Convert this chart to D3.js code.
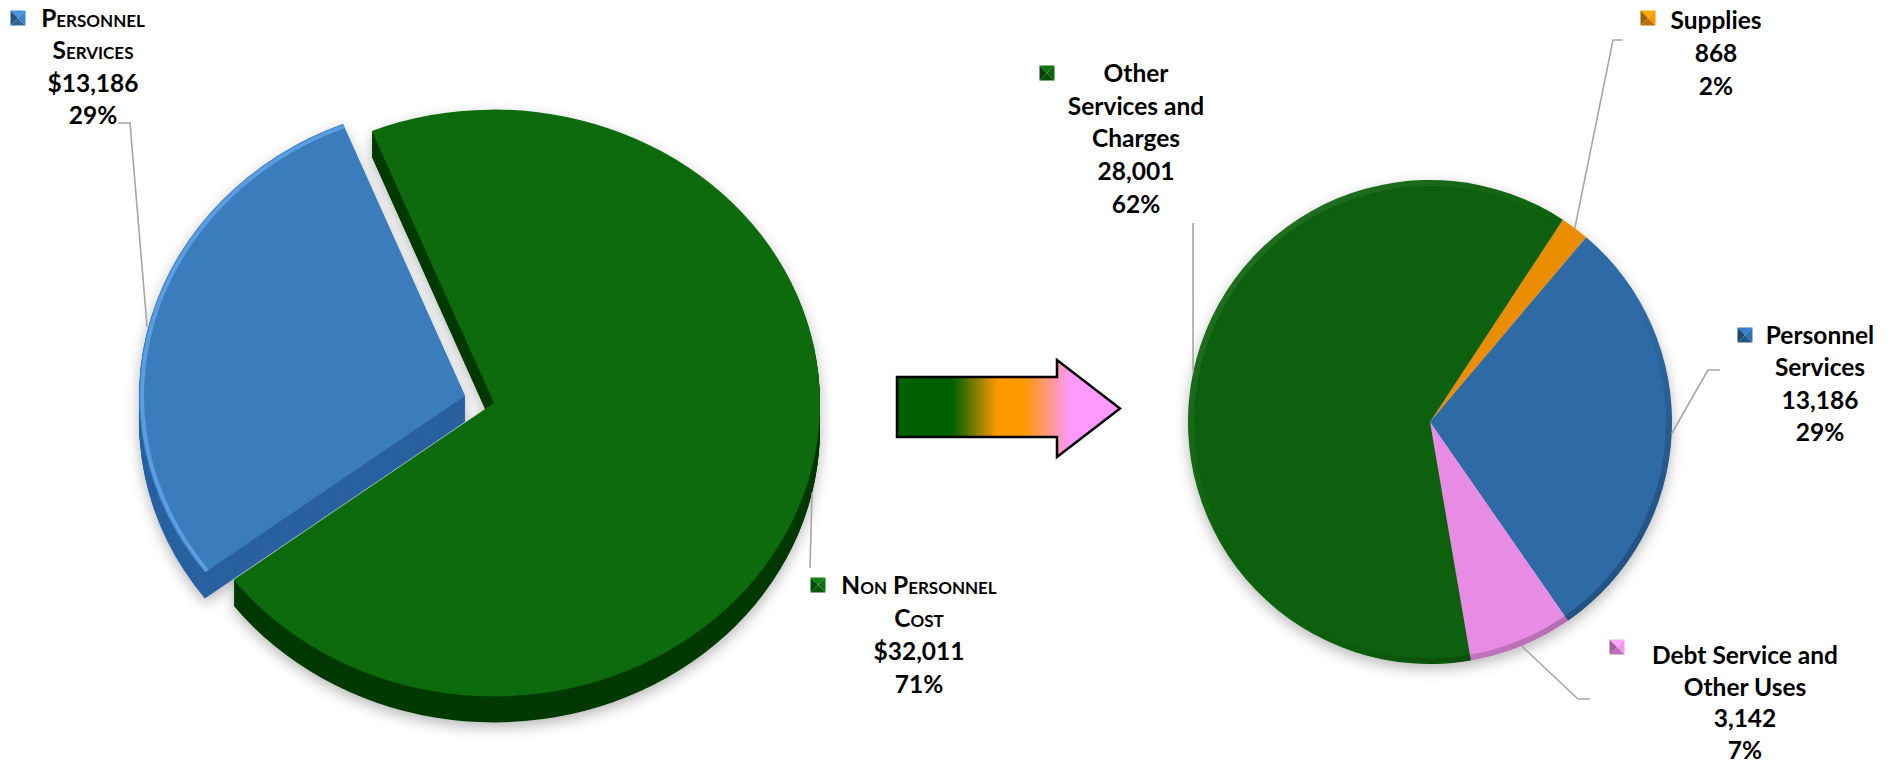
<!DOCTYPE html>
<html><head><meta charset="utf-8">
<script src="https://cdn.jsdelivr.net/npm/d3@7"></script>
<style>html,body{margin:0;padding:0;background:#fff;} svg{display:block;font-family:Lato,"Open Sans",sans-serif;}</style>
</head><body>
<svg id="c" width="1894" height="763"></svg>
<script>
// ---------- DATA ----------
const leftCategories = ["Non Personnel Cost", "Personnel Services"];
const leftValues = [32011, 13186];
const rightCategories = ["Supplies", "Personnel Services", "Debt Service and Other Uses", "Other Services and Charges"];
const rightValues = [868, 13186, 3142, 28001];

// ---------- STYLE / LAYOUT ----------
const leftTop = ["#0c6b0c", "#3a7dbc"];
const leftSide = ["#033a03", "#2a62a0"];
const rightColors = ["#ea8d00", "#2d6aa6", "#e88be4", "#086008"];
const fontSize = 24.5;

const svg = d3.select("#c");
const defs = svg.append("defs");
const f = defs.append("filter").attr("id", "shadow")
  .attr("x", "-20%").attr("y", "-20%").attr("width", "140%").attr("height", "140%");
f.append("feDropShadow").attr("dx", 0).attr("dy", 5).attr("stdDeviation", 7)
  .attr("flood-color", "#000").attr("flood-opacity", 0.28);

const bev = defs.append("linearGradient").attr("id", "bevel")
  .attr("x1", 0).attr("y1", 0).attr("x2", 1).attr("y2", 1);
[[0, "#ffffff", 0.12], [0.45, "#ffffff", 0], [0.6, "#000000", 0], [1, "#000000", 0.35]]
  .forEach(s => bev.append("stop").attr("offset", s[0]).attr("stop-color", s[1]).attr("stop-opacity", s[2]));

const ag = defs.append("linearGradient").attr("id", "arrowGrad")
  .attr("x1", 0).attr("x2", 1).attr("y1", 0).attr("y2", 0);
[[0, "#006000"], [0.25, "#006000"], [0.45, "#ff9900"], [0.57, "#ff9900"], [0.78, "#ff99ff"], [1, "#ff99ff"]]
  .forEach(s => ag.append("stop").attr("offset", s[0]).attr("stop-color", s[1]));

const deg = Math.PI / 180;
const fmtMoney = d3.format("$,");
const fmtNum = d3.format(",");
const fmtPct = d3.format(".0%");

// ---------- LEFT PIE (3D, exploded) ----------
const L = {cx: 494, cy: 403, r: 326, sy: 0.9, depth: 26, explode: [0, 30]};
const leftData = leftCategories.map((c, i) => ({name: c, value: leftValues[i], i}));
const leftTotal = d3.sum(leftValues);
const leftPie = d3.pie().sort(null).value(d => d.value)
  .startAngle(-22 * deg).endAngle(338 * deg);
const leftArcs = leftPie(leftData);
const arcL = d3.arc().innerRadius(0).outerRadius(L.r);
function offL(d) {
  const m = (d.startAngle + d.endAngle) / 2, e = L.explode[d.data.i];
  return [e * Math.sin(m), -e * Math.cos(m) * L.sy];
}
const gL = svg.append("g").attr("transform", `translate(${L.cx},${L.cy})`).attr("filter", "url(#shadow)");
const steps = d3.range(L.depth, 0, -1);
leftArcs.forEach(d => {
  const o = offL(d);
  gL.append("g").selectAll("path").data(steps).join("path")
    .attr("d", arcL(d))
    .attr("fill", leftSide[d.data.i])
    .attr("transform", k => `translate(${o[0]},${o[1] + k}) scale(1,${L.sy})`);
});
leftArcs.forEach(d => {
  const o = offL(d);
  gL.append("path").attr("d", arcL(d)).attr("fill", leftTop[d.data.i])
    .attr("transform", `translate(${o[0]},${o[1]}) scale(1,${L.sy})`);
});
// highlight rim on blue slice
{
  const d = leftArcs[1], o = offL(d);
  gL.append("path")
    .attr("d", d3.arc().innerRadius(L.r - 5).outerRadius(L.r - 1)(d))
    .attr("fill", "#6aaaf0").attr("opacity", 0.7)
    .attr("transform", `translate(${o[0]},${o[1]}) scale(1,${L.sy})`);
}

// ---------- RIGHT PIE ----------
const R = {cx: 1430, cy: 422, r: 242};
const rightData = rightCategories.map((c, i) => ({name: c, value: rightValues[i], i}));
const rightTotal = d3.sum(rightValues);
const rightPie = d3.pie().sort(null).value(d => d.value)
  .startAngle(33.3 * deg).endAngle(393.3 * deg);
const rightArcs = rightPie(rightData);
const arcR = d3.arc().innerRadius(0).outerRadius(R.r);
const gR = svg.append("g").attr("transform", `translate(${R.cx},${R.cy})`);
gR.append("g").attr("filter", "url(#shadow)").selectAll("path").data(rightArcs).join("path")
  .attr("d", arcR).attr("fill", d => rightColors[d.data.i]);
gR.append("circle").attr("r", R.r - 3).attr("fill", "none")
  .attr("stroke", "url(#bevel)").attr("stroke-width", 6);

// ---------- ARROW ----------
svg.append("path")
  .attr("d", "M897,377 H1057 V360 L1120,408.5 L1057,457 V437 H897 Z")
  .attr("fill", "url(#arrowGrad)").attr("stroke", "#000").attr("stroke-width", 2.5)
  .attr("stroke-linejoin", "miter");

// ---------- LABELS ----------
function splitName(name, breaks) {
  const w = name.split(" "), out = [];
  let cur = [];
  w.forEach((t, k) => { cur.push(t); if (breaks.includes(k + 1)) { out.push(cur.join(" ")); cur = []; } });
  if (cur.length) out.push(cur.join(" "));
  return out;
}
function marker(x, y, s, c) {
  const col = d3.color(c), h = s / 2;
  const g = svg.append("g").attr("transform", `translate(${x},${y})`);
  const tri = [
    [[-h, -h], [h, -h], [0, 0], col.brighter(0.5)],
    [[h, -h], [h, h], [0, 0], col.brighter(0.2)],
    [[h, h], [-h, h], [0, 0], col.darker(0.6)],
    [[-h, h], [-h, -h], [0, 0], col.darker(1.1)]
  ];
  g.selectAll("path").data(tri).join("path")
    .attr("d", t => `M${t[0]}L${t[1]}L${t[2]}Z`).attr("fill", t => t[3]);
}
function leader(pts) {
  svg.append("path").attr("d", d3.line()(pts)).attr("fill", "none")
    .attr("stroke", "#a6a6a6").attr("stroke-width", 1.6);
}
function label(cfg) {
  cfg.lines.forEach((t, k) => {
    svg.append("text").attr("x", cfg.cx).attr("y", cfg.y0 + k * cfg.dy)
      .attr("dy", "0.36em").attr("text-anchor", "middle")
      .attr("font-size", fontSize).attr("font-weight", 700).attr("fill", "#000")
      .style("font-variant", cfg.smallCaps && k < cfg.nameLines ? "small-caps" : "normal")
      .text(t);
  });
  marker(cfg.mx, cfg.my, 15, cfg.color);
}
function edgeL(d, extra) {
  const m = (d.startAngle + d.endAngle) / 2, o = offL(d), r = L.r + extra;
  return [L.cx + o[0] + r * Math.sin(m), L.cy + o[1] - r * Math.cos(m) * L.sy + L.depth * 0.4];
}
function edgeR(d) {
  const m = (d.startAngle + d.endAngle) / 2;
  return [R.cx + R.r * Math.sin(m), R.cy - R.r * Math.cos(m)];
}

// left labels
const leftLayout = [
  {cx: 919, y0: 585, dy: 33, mx: 818, my: 585, breaks: [2], lead: [[810, 568]]},
  {cx: 93, y0: 18, dy: 32.5, mx: 18, my: 18, breaks: [1], lead: [[130, 123], [118, 123]]}
];
leftArcs.forEach(d => {
  const lay = leftLayout[d.data.i];
  const nameLines = splitName(d.data.name, lay.breaks);
  leader([edgeL(d, 4)].concat(lay.lead));
  label({cx: lay.cx, y0: lay.y0, dy: lay.dy, mx: lay.mx, my: lay.my, color: leftTop[d.data.i],
    smallCaps: true, nameLines: nameLines.length,
    lines: nameLines.concat([fmtMoney(d.data.value), fmtPct(d.data.value / leftTotal)])});
});

// right labels
const rightLayout = [
  {cx: 1716, y0: 20, dy: 33, mx: 1648, my: 18, breaks: [], lead: [[1613, 40], [1623, 40]]},
  {cx: 1820, y0: 335, dy: 32.5, mx: 1745, my: 335, breaks: [1], lead: [[1708, 370], [1720, 370]]},
  {cx: 1745, y0: 655, dy: 31.7, mx: 1617, my: 647, breaks: [3], lead: [[1578, 699], [1590, 699]]},
  {cx: 1136, y0: 73, dy: 32.7, mx: 1047, my: 73, breaks: [1, 3], lead: [[1193, 223]]}
];
rightArcs.forEach(d => {
  const lay = rightLayout[d.data.i];
  const nameLines = splitName(d.data.name, lay.breaks);
  leader([edgeR(d)].concat(lay.lead));
  label({cx: lay.cx, y0: lay.y0, dy: lay.dy, mx: lay.mx, my: lay.my, color: rightColors[d.data.i],
    smallCaps: false, nameLines: nameLines.length,
    lines: nameLines.concat([fmtNum(d.data.value), fmtPct(d.data.value / rightTotal)])});
});
</script>
</body></html>
